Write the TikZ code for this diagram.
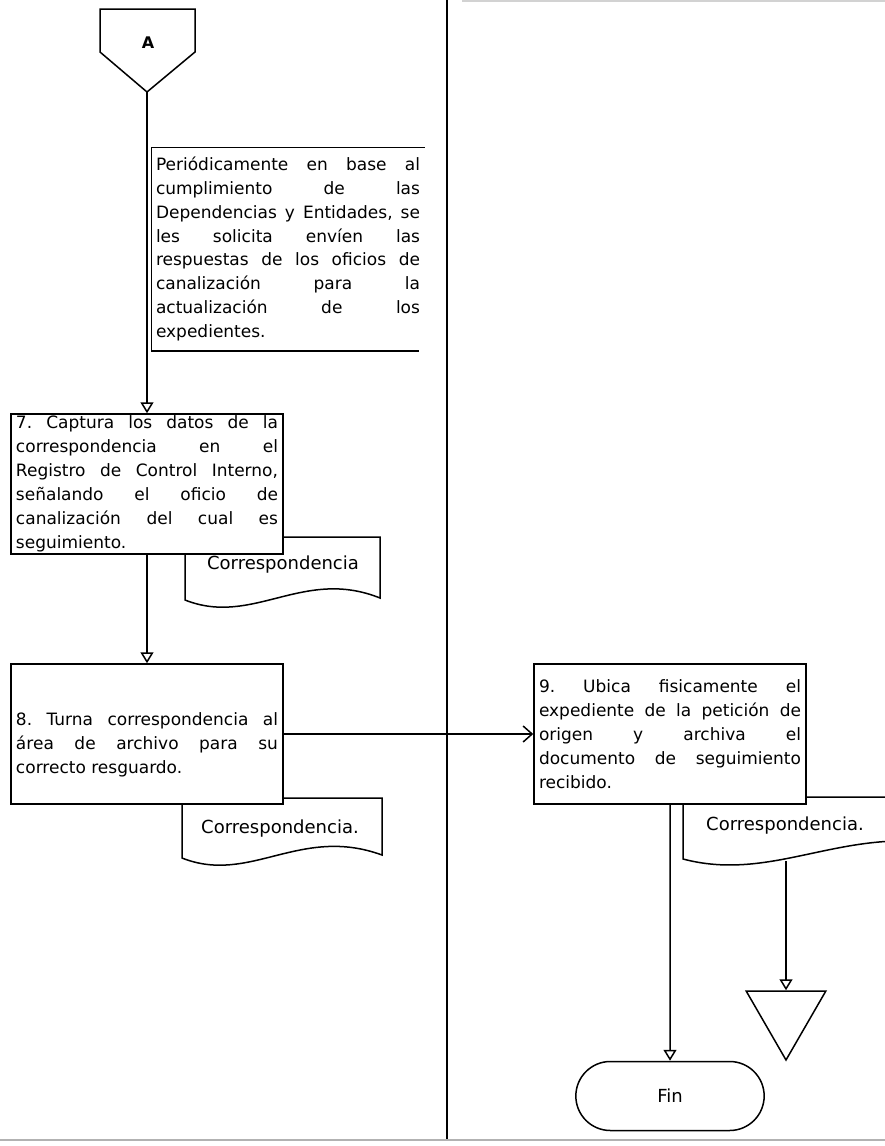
\documentclass[tikz,border=0pt]{standalone}
\usepackage{fontspec}
\setmainfont{DejaVu Sans}
\usetikzlibrary{arrows.meta,shapes.geometric,shapes.misc}
\frenchspacing

\begin{document}
\begin{tikzpicture}[x=1pt,y=-1pt,line width=1.5pt,
  proc/.style={draw, fill=white, text width=262pt, align=justify, inner xsep=5pt, inner ysep=1pt, minimum height=140pt, font=\fontsize{17}{24}\selectfont},
  nota/.style={text width=264pt, align=justify, inner xsep=4pt, inner ysep=0pt, minimum height=202pt, font=\fontsize{17}{23.8}\selectfont},
  doctxt/.style={font=\fontsize{18}{24}\selectfont},
  flecha/.style={-{Triangle[open,length=11pt,width=13pt]}},
  flecha2/.style={-{Straight Barb[length=9pt,width=16pt]}}]

\useasboundingbox (0,0) rectangle (885,1146);

\draw (447,0) -- (447,1140);
\draw[gray!60, line width=2pt] (0,1140) -- (885,1140);
\draw[gray!35] (462,1) -- (885,1);

\draw (100,9) -- (195,9) -- (195,52) -- (147,92) -- (100,52) -- cycle;
\node[font=\bfseries\fontsize{16}{20}\selectfont](A) at (148,43) {A};
\coordinate (Apt) at (147,92);

\node[nota](nota) at (288,249) {Periódicamente en base al\linebreak
cumplimiento de las\linebreak
Dependencias y Entidades, se\linebreak
les solicita envíen las\linebreak
respuestas de los oficios de\linebreak
canalización para la\linebreak
actualización de los\linebreak
expedientes.};
\draw (nota.north east) -- (nota.north west) -- (nota.south west) -- ([xshift=-6pt]nota.south east);

\draw[fill=white] (185,537) -- (380,537) -- (380,598) .. controls (303,567) and (253,627) .. (185,600) -- cycle;
\node[doctxt](doc1) at (283,565) {Correspondencia};

\draw[fill=white] (182,798) -- (382,798) -- (382,855) .. controls (300,825) and (250,885) .. (182,858) -- cycle;
\node[doctxt](doc2) at (280,829) {Correspondencia.};

\draw[fill=white] (683,797) -- (990,797) -- (990,856) .. controls (860,810) and (785,886) .. (683,859) -- cycle;
\node[doctxt](doc3) at (785,826) {Correspondencia.};
\coordinate (doc3b) at (786,861);

\node[proc](box7) at (147,484) {7. Captura los datos de la\linebreak
correspondencia en el\linebreak
Registro de Control Interno,\linebreak
señalando el oficio de\linebreak
canalización del cual es\linebreak
seguimiento.};

\node[proc](box8) at (147,734) {\mbox{}\\[10pt]8. Turna correspondencia al\linebreak
área de archivo para su\linebreak
correcto resguardo.};

\node[proc](box9) at (670,734) {9. Ubica fisicamente el\linebreak
expediente de la petición de\linebreak
origen y archiva el\linebreak
documento de seguimiento\linebreak
recibido.};

\node[draw, rounded rectangle, minimum width=195pt, minimum height=69pt, doctxt](fin) at (670,1096) {Fin};
\node[draw, regular polygon, regular polygon sides=3, shape border rotate=180, minimum size=92pt, inner sep=0pt](tri) at (786,1014) {};

\path (Apt) edge[flecha] (box7);
\path (box7) edge[flecha] (box8);
\path (box8) edge[flecha2] (box9);
\path (box9) edge[flecha] (fin);
\path (doc3b) edge[flecha] (tri);

\end{tikzpicture}
\end{document}
